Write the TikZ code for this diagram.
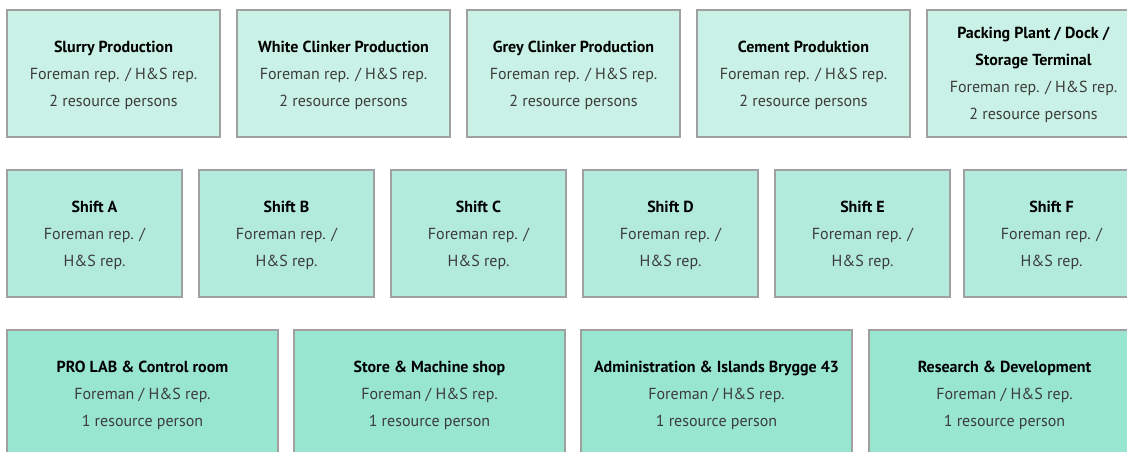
\documentclass[tikz,border=0pt]{standalone}
\usepackage{fontspec}
\setmainfont{PT Sans}
\usepackage{xcolor}
\usepackage{tikz}
\usetikzlibrary{positioning}
\definecolor{rowone}{HTML}{C9F1E5}
\definecolor{rowtwo}{HTML}{B2EBDC}
\definecolor{rowthree}{HTML}{98E5D0}
\definecolor{boxline}{HTML}{A0A0A0}
\definecolor{subtext}{HTML}{3C3C3C}
\newcommand{\ttl}[1]{\textbf{#1}}
\newcommand{\subtxt}[1]{\textcolor{subtext}{#1}}

\begin{document}
\begin{tikzpicture}[
  x=0.75pt, y=-0.75pt,
  unit/.style={fill=#1, draw=boxline, line width=0.9pt, outer sep=0pt, inner sep=0pt, minimum height=127*0.75pt, align=center, font=\fontsize{12}{20.25}\selectfont, text depth=-3pt},
  dept/.style={unit=rowone, minimum width=213*0.75pt},
  shiftbox/.style={unit=rowtwo, minimum width=175*0.75pt},
  site/.style={unit=rowthree, minimum width=271*0.75pt, minimum height=128*0.75pt}
]
  \useasboundingbox (0,0) rectangle (1127,452);
  \clip (0,0) rectangle (1127,452);
  % departments
  \node[dept] (slurry) at (113.5,73.5) {\ttl{Slurry Production}\\\subtxt{Foreman rep. / H\&S rep.}\\\subtxt{2 resource persons}};
  \node[dept] (white) at (343.5,73.5) {\ttl{White Clinker Production}\\\subtxt{Foreman rep. / H\&S rep.}\\\subtxt{2 resource persons}};
  \node[dept] (grey) at (573.5,73.5) {\ttl{Grey Clinker Production}\\\subtxt{Foreman rep. / H\&S rep.}\\\subtxt{2 resource persons}};
  \node[dept] (cement) at (803.5,73.5) {\ttl{Cement Produktion}\\\subtxt{Foreman rep. / H\&S rep.}\\\subtxt{2 resource persons}};
  \node[dept] (packing) at (1033.5,73.5) {\ttl{Packing Plant / Dock /}\\\ttl{Storage Terminal}\\\subtxt{Foreman rep. / H\&S rep.}\\\subtxt{2 resource persons}};
  % shifts
  \node[shiftbox] (shiftA) at (94.5,233.5) {\ttl{Shift A}\\\subtxt{Foreman rep. /}\\\subtxt{H\&S rep.}};
  \node[shiftbox] (shiftB) at (286.5,233.5) {\ttl{Shift B}\\\subtxt{Foreman rep. /}\\\subtxt{H\&S rep.}};
  \node[shiftbox] (shiftC) at (478.5,233.5) {\ttl{Shift C}\\\subtxt{Foreman rep. /}\\\subtxt{H\&S rep.}};
  \node[shiftbox] (shiftD) at (670.5,233.5) {\ttl{Shift D}\\\subtxt{Foreman rep. /}\\\subtxt{H\&S rep.}};
  \node[shiftbox] (shiftE) at (862.5,233.5) {\ttl{Shift E}\\\subtxt{Foreman rep. /}\\\subtxt{H\&S rep.}};
  \node[shiftbox] (shiftF) at (1051.5,233.5) {\ttl{Shift F}\\\subtxt{Foreman rep. /}\\\subtxt{H\&S rep.}};
  % other units
  \node[site] (prolab) at (142.5,394) {\ttl{PRO LAB \& Control room}\\\subtxt{Foreman / H\&S rep.}\\\subtxt{1 resource person}};
  \node[site] (store) at (429.5,394) {\ttl{Store \& Machine shop}\\\subtxt{Foreman / H\&S rep.}\\\subtxt{1 resource person}};
  \node[site] (admin) at (716.5,394) {\ttl{Administration \& Islands Brygge 43}\\\subtxt{Foreman / H\&S rep.}\\\subtxt{1 resource person}};
  \node[site] (rnd) at (1004.5,394) {\ttl{Research \& Development}\\\subtxt{Foreman / H\&S rep.}\\\subtxt{1 resource person}};
\end{tikzpicture}
\end{document}
